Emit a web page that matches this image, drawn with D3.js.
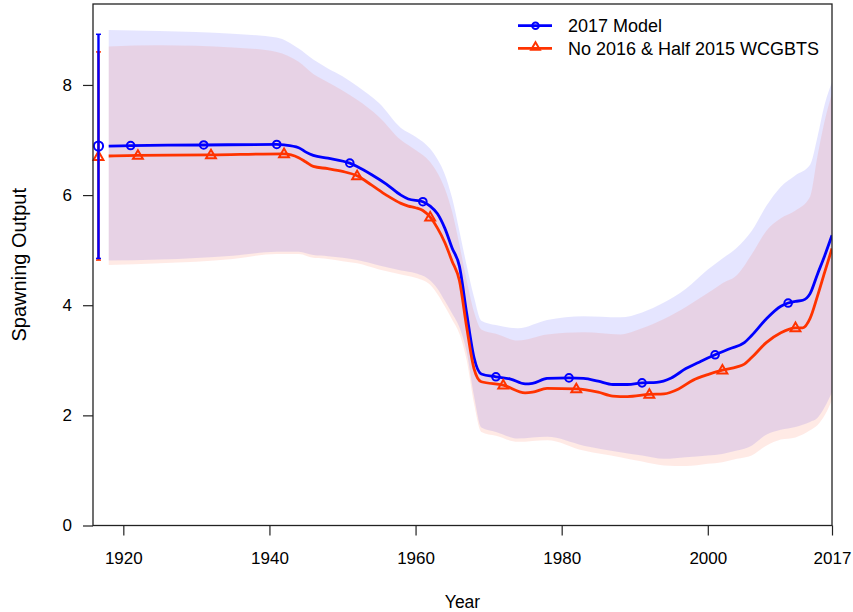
<!DOCTYPE html>
<html>
<head>
<meta charset="utf-8">
<script src="https://cdn.jsdelivr.net/npm/d3@7"></script>
<style>
  body { margin: 0; background: #fff; }
  svg { display: block; }
  text { font-family: "Liberation Sans", Arial, Helvetica, sans-serif; fill: #000; }
</style>
</head>
<body>
<svg id="chart" width="853" height="612"></svg>
<script>
// ---- Spawning output, 2017 Model ----
const modelYears = [1918,1921,1931,1941,1942,1944,1945,1946,1948,1951,1952,1954,1956,1958,1959,1961,1962,1963,1964,1965,1966,1967,1968,1969,1971,1973,1975,1976,1978,1981,1983,1985,1987,1989,1991,1993,1995,1997,1999,2001,2003,2005,2006,2008,2010,2011,2012,2013,2014,2015,2016,2017];
const modelSpawn = [6.89,6.90,6.91,6.92,6.91,6.86,6.78,6.72,6.67,6.58,6.52,6.37,6.20,6.00,5.93,5.88,5.80,5.66,5.40,5.04,4.71,3.85,3.05,2.75,2.70,2.66,2.57,2.58,2.67,2.68,2.67,2.62,2.56,2.56,2.59,2.60,2.68,2.85,2.98,3.10,3.21,3.32,3.45,3.75,3.98,4.04,4.07,4.09,4.21,4.56,4.90,5.27];
const modelMarkerYears = [1921,1931,1941,1951,1961,1971,1981,1991,2001,2011];

// ---- Spawning output, No 2016 & Half 2015 WCGBTS ----
const altYears = [1918,1922,1932,1942,1944,1945,1946,1948,1950,1952,1954,1956,1958,1959,1960,1961,1962,1963,1964,1965,1966,1967,1968,1969,1972,1975,1976,1978,1982,1985,1987,1989,1992,1994,1996,1998,2000,2002,2004,2005,2006,2008,2010,2012,2013,2014,2015,2016,2017];
const altSpawn = [6.71,6.72,6.73,6.75,6.68,6.60,6.52,6.48,6.43,6.35,6.18,6.00,5.85,5.80,5.77,5.72,5.60,5.40,5.14,4.80,4.45,3.60,2.85,2.61,2.55,2.41,2.42,2.49,2.48,2.42,2.35,2.34,2.38,2.39,2.48,2.64,2.74,2.82,2.88,2.93,3.05,3.32,3.50,3.59,3.59,3.76,4.16,4.60,5.03];
const altMarkerYears = [1922,1932,1942,1952,1962,1972,1982,1992,2002,2012];

// ---- 95% intervals ----
const bandYears = [1918,1925,1935,1941,1944,1946,1948,1950,1952,1955,1958,1960,1962,1963,1964,1965,1966,1967,1968,1969,1971,1974,1978,1983,1988,1991,1994,1997,2000,2002,2004,2006,2008,2010,2012,2014,2015,2016,2017];
const modelUpper = [9.00,8.98,8.93,8.86,8.66,8.46,8.30,8.16,7.98,7.67,7.22,7.06,6.84,6.65,6.38,5.95,5.35,4.72,4.15,3.72,3.64,3.58,3.73,3.80,3.78,3.87,4.05,4.30,4.65,4.85,5.05,5.35,5.80,6.15,6.36,6.55,7.05,7.65,8.05];
const modelLower = [4.81,4.83,4.90,4.97,4.97,4.91,4.89,4.86,4.82,4.72,4.63,4.58,4.45,4.30,4.08,3.85,3.60,3.15,2.35,1.78,1.70,1.58,1.61,1.45,1.33,1.27,1.21,1.24,1.27,1.30,1.36,1.45,1.65,1.74,1.79,1.88,1.95,2.15,2.42];
const altUpper = [8.70,8.72,8.68,8.60,8.42,8.20,8.05,7.90,7.73,7.42,7.00,6.82,6.60,6.40,6.12,5.70,5.10,4.45,3.88,3.56,3.48,3.36,3.47,3.51,3.47,3.58,3.75,3.97,4.22,4.40,4.55,4.92,5.35,5.58,5.72,5.97,6.70,7.35,7.85];
const altLower = [4.73,4.76,4.84,4.93,4.93,4.86,4.84,4.80,4.76,4.65,4.56,4.50,4.37,4.20,3.98,3.74,3.48,3.00,2.22,1.70,1.63,1.52,1.55,1.36,1.24,1.16,1.09,1.08,1.12,1.15,1.21,1.27,1.45,1.56,1.60,1.73,1.82,2.00,2.28];

// ---- Unfished (virgin) spawning output with interval ----
const virginYear = 1916;
const virginModel = { est: 6.89, lo: 4.85, hi: 8.92 };
const virginAlt   = { est: 6.70, lo: 4.82, hi: 8.60 };

// ---- Axes ----
const xTicks = [1920, 1940, 1960, 1980, 2000, 2017];
const yTicks = [0, 2, 4, 6, 8];
const seriesNames = ["2017 Model", "No 2016 & Half 2015 WCGBTS"];

const BLUE = "#0000ff";
const RED = "#ff3300";

const svg = d3.select("#chart");
const plotL = 93, plotR = 832, plotT = 4, plotB = 525.5;

const x = d3.scaleLinear().domain([1915.85, 2017]).range([plotL, plotR]);
const y = d3.scaleLinear().domain([0, 9.47]).range([plotB, plotT]);

svg.append("defs").append("clipPath").attr("id", "plotclip")
  .append("rect").attr("x", plotL).attr("y", plotT).attr("width", plotR - plotL).attr("height", plotB - plotT);

const plot = svg.append("g").attr("clip-path", "url(#plotclip)");

// shaded intervals
const bandModel = bandYears.map((yr, i) => ({ yr, lo: modelLower[i], hi: modelUpper[i] }));
const bandAlt = bandYears.map((yr, i) => ({ yr, lo: altLower[i], hi: altUpper[i] }));
const area = d3.area().curve(d3.curveMonotoneX)
  .x(d => x(d.yr)).y0(d => y(d.lo)).y1(d => y(d.hi));

plot.append("path").datum(bandModel).attr("d", area)
  .attr("fill", BLUE).attr("fill-opacity", 0.1);
plot.append("path").datum(bandAlt).attr("d", area)
  .attr("fill", RED).attr("fill-opacity", 0.1);

// lines
const modelData = modelYears.map((yr, i) => ({ yr, v: modelSpawn[i] }));
const altData = altYears.map((yr, i) => ({ yr, v: altSpawn[i] }));
const line = d3.line().curve(d3.curveMonotoneX).x(d => x(d.yr)).y(d => y(d.v));

plot.append("path").datum(modelData).attr("d", line)
  .attr("fill", "none").attr("stroke", BLUE).attr("stroke-width", 2.8).attr("stroke-linejoin", "round");
plot.append("path").datum(altData).attr("d", line)
  .attr("fill", "none").attr("stroke", RED).attr("stroke-width", 2.8).attr("stroke-linejoin", "round");

// markers
const tri = d3.symbol().type(d3.symbolTriangle).size(42);
plot.selectAll(".mk-model").data(modelData.filter(d => modelMarkerYears.includes(d.yr)))
  .join("circle").attr("cx", d => x(d.yr)).attr("cy", d => y(d.v)).attr("r", 3.8)
  .attr("fill", "none").attr("stroke", BLUE).attr("stroke-width", 2);
plot.selectAll(".mk-alt").data(altData.filter(d => altMarkerYears.includes(d.yr)))
  .join("path").attr("d", tri).attr("transform", d => `translate(${x(d.yr)},${y(d.v) + 0.5})`)
  .attr("fill", "none").attr("stroke", RED).attr("stroke-width", 2);

// unfished estimates with error bars
function virgin(g, v, shift, color, marker) {
  const cx = x(virginYear + shift);
  g.append("line").attr("x1", cx).attr("x2", cx).attr("y1", y(v.lo)).attr("y2", y(v.hi))
    .attr("stroke", color).attr("stroke-width", 2.4);
  [v.lo, v.hi].forEach(val => g.append("line")
    .attr("x1", cx - 2.5).attr("x2", cx + 2.5).attr("y1", y(val)).attr("y2", y(val))
    .attr("stroke", color).attr("stroke-width", 1.5));
  if (marker === "circle") {
    g.append("circle").attr("cx", cx).attr("cy", y(v.est)).attr("r", 4.6)
      .attr("fill", "none").attr("stroke", color).attr("stroke-width", 2);
  } else {
    g.append("path").attr("d", tri).attr("transform", `translate(${cx},${y(v.est) + 0.5})`)
      .attr("fill", "none").attr("stroke", color).attr("stroke-width", 2);
  }
}
const vg = svg.append("g");
virgin(vg, virginAlt, 0.6, RED, "triangle");
virgin(vg, virginModel, 0.6, BLUE, "circle");

// axes
const xAxis = svg.append("g").attr("transform", `translate(0,${plotB})`)
  .call(d3.axisBottom(x).tickValues(xTicks).tickFormat(d3.format("d")).tickSize(10).tickPadding(16));
const yAxis = svg.append("g").attr("transform", `translate(${plotL},0)`)
  .call(d3.axisLeft(y).tickValues(yTicks).tickFormat(d3.format("d")).tickSize(10).tickPadding(11));
[xAxis, yAxis].forEach(a => {
  a.select(".domain").remove();
  a.selectAll(".tick line").attr("stroke", "#222").attr("stroke-width", 1.2);
  a.selectAll(".tick text").attr("font-size", 17).attr("fill", "#000")
    .attr("font-family", "'Liberation Sans', Arial, sans-serif");
});

// frame
svg.append("rect").attr("x", plotL).attr("y", plotT).attr("width", plotR - plotL).attr("height", plotB - plotT)
  .attr("fill", "none").attr("stroke", "#222").attr("stroke-width", 1.3);

// axis titles
svg.append("text").attr("x", (plotL + plotR) / 2).attr("y", 608).attr("text-anchor", "middle")
  .attr("font-size", 17.5).text("Year");
svg.append("text").attr("transform", `translate(25.5,${(plotT + plotB) / 2}) rotate(-90)`)
  .attr("text-anchor", "middle").attr("font-size", 20).text("Spawning Output");

// legend
const legend = svg.append("g");
const legRows = [
  { name: seriesNames[0], color: BLUE, marker: "circle", yy: 25.7 },
  { name: seriesNames[1], color: RED, marker: "triangle", yy: 48.3 }
];
legRows.forEach(r => {
  legend.append("line").attr("x1", 518).attr("x2", 552).attr("y1", r.yy).attr("y2", r.yy)
    .attr("stroke", r.color).attr("stroke-width", 2.8);
  if (r.marker === "circle") {
    legend.append("circle").attr("cx", 535.5).attr("cy", r.yy).attr("r", 3.3)
      .attr("fill", "none").attr("stroke", r.color).attr("stroke-width", 2);
  } else {
    legend.append("path").attr("d", d3.symbol().type(d3.symbolTriangle).size(34))
      .attr("transform", `translate(535.5,${r.yy - 1})`)
      .attr("fill", "none").attr("stroke", r.color).attr("stroke-width", 2);
  }
  legend.append("text").attr("x", 568).attr("y", r.yy).attr("dy", "0.36em")
    .attr("font-size", 18).text(r.name);
});
</script>
</body>
</html>
